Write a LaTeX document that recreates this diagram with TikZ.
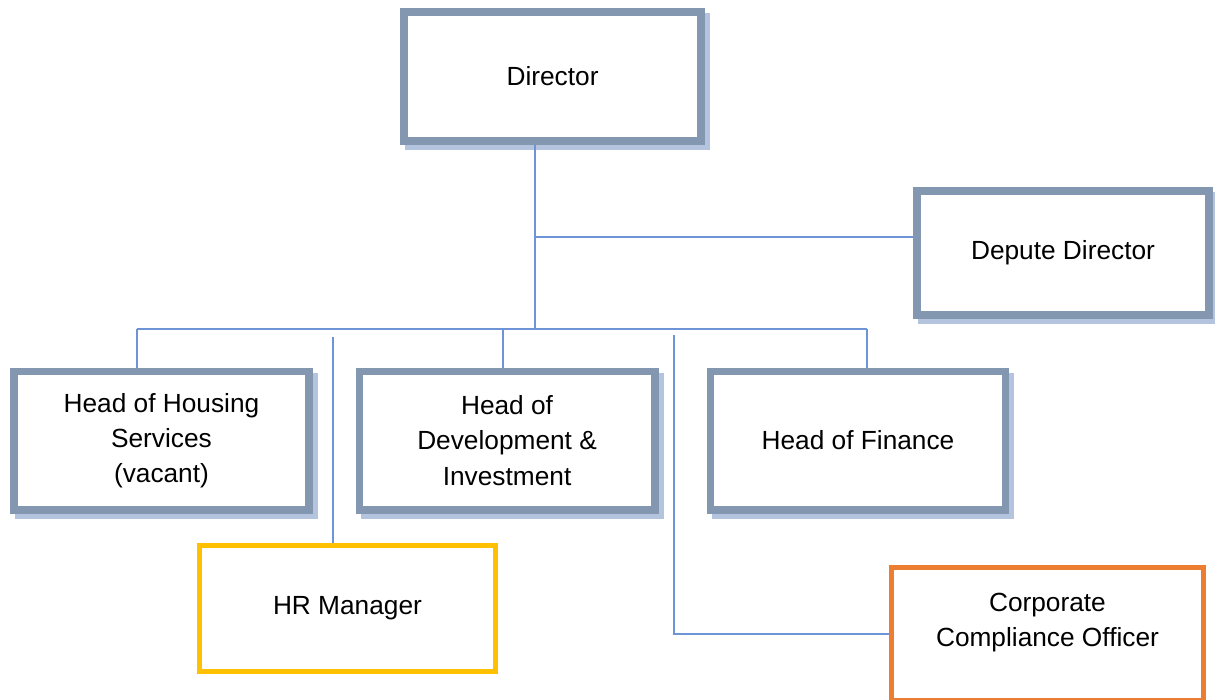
\documentclass[tikz,border=0pt]{standalone}
\usepackage{fontspec}
\setmainfont{Liberation Sans}
\usetikzlibrary{positioning,shadows}
\definecolor{framegray}{HTML}{8497B0}
\definecolor{shadowblue}{HTML}{B4C3DE}
\definecolor{linkblue}{HTML}{6E93D6}
\definecolor{hryellow}{HTML}{FFC000}
\definecolor{comporange}{HTML}{ED7D31}

\begin{document}
\begin{tikzpicture}[
    x=1pt, y=1pt,
    node distance=32pt,
    box/.style={draw, fill=white, align=center, font=\fontsize{19.7}{26.5}\selectfont},
    staffbox/.style={box, draw=framegray, line width=5.7pt,
        drop shadow={shadow xshift=3.75pt, shadow yshift=-3.75pt, opacity=1,
                     fill=shadowblue, draw=shadowblue, line width=5.7pt}},
    headbox/.style={staffbox, minimum width=221.5pt, minimum height=103.8pt},
    hrbox/.style={box, draw=hryellow, line width=3.75pt},
    compbox/.style={box, draw=comporange, line width=3.75pt},
    link/.style={draw=linkblue, line width=1.1pt}
]
\useasboundingbox (0,0) rectangle (911.25,-525);

\node[staffbox, minimum width=223pt, minimum height=97pt] (director) at (414.4,-57.4) {Director};
\node[staffbox, minimum width=219.3pt, minimum height=93.3pt] (deputy) at (797.25,-189.75) {Depute Director};

\node[headbox] (housing) at (121.1,-330.4) {Head of Housing\\Services\\(vacant)};
\node[headbox, right=of housing] (development) {Head of\\Development \&\\Investment};
\node[headbox, right=36pt of development] (finance) {Head of Finance};

\node[hrbox, minimum width=222pt, minimum height=94.5pt] (hr) at (260.6,-456.4) {HR Manager};
\node[compbox, minimum width=234pt, minimum height=99.75pt, text depth=21.5pt] (cco) at (785.6,-475.5) {Corporate\\Compliance Officer};

% reporting lines
\coordinate (bus) at (401.25,-246.75);
\coordinate (busL) at (102.75,-246.75);
\coordinate (busR) at (650.25,-246.75);
\coordinate (devdrop) at (377.25,-246.75);
\coordinate (deptap) at (401.25,-177.75);
\coordinate (hrtap) at (249.75,-252.75);
\coordinate (ccotap) at (505.5,-251.25);

\draw[link] (director.south -| bus) -- (bus);
\draw[link] (busL) -- (busR);
\draw[link] (busL) -- (busL |- housing.north);
\draw[link] (devdrop) -- (devdrop |- development.north);
\draw[link] (busR) -- (busR |- finance.north);
\draw[link] (deptap) -- (deptap -| deputy.west);
\draw[link] (hrtap) -- (hrtap |- hr.north);
\draw[link] (ccotap) |- (cco.west);
\end{tikzpicture}
\end{document}
